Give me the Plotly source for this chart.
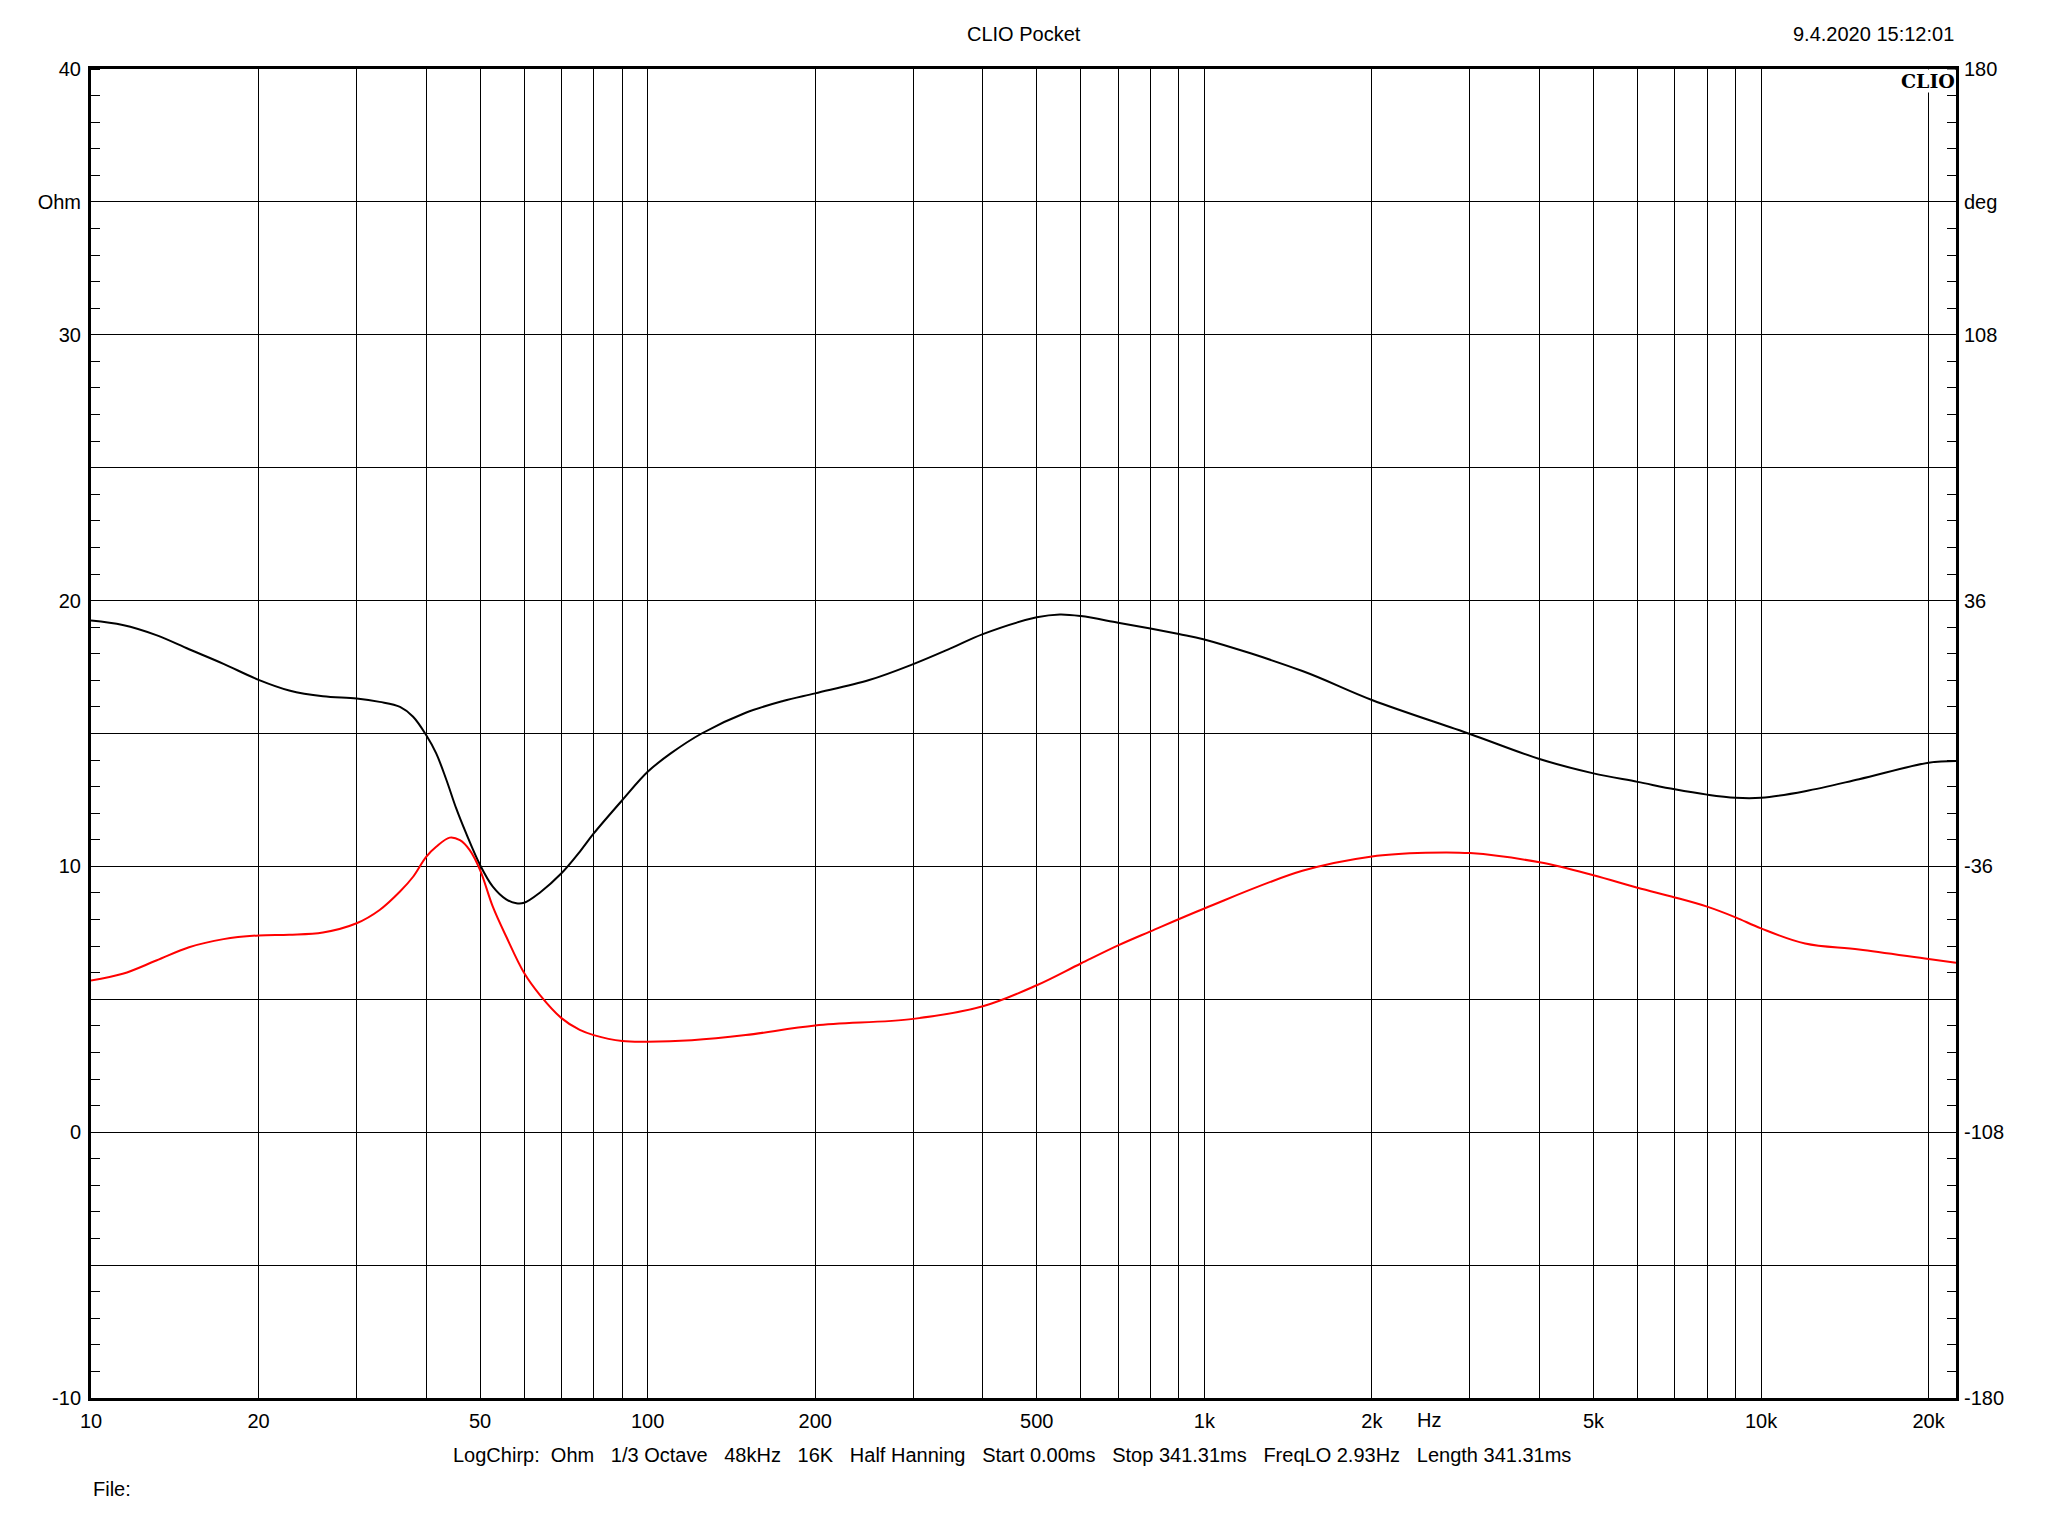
import numpy as np
import plotly.graph_objects as go

# ---- data ----
freq_mag = [10, 11.4, 13.1, 15, 17.3, 20, 22.7, 26.1, 30, 33, 35.9, 37.9, 40, 41.7, 43.5, 45.3,
            47.2, 50, 52.7, 55.7, 58.1, 60, 64, 70, 75.5, 80, 90,
            100, 110, 125, 150, 175, 200, 250, 300, 350, 400, 500, 550, 600, 700, 800, 900,
            1000, 1500, 2000, 3000, 4000, 5000, 6000, 7000, 8000, 9000, 10000, 12000, 15000,
            20000, 22400]
impedance_ohm = [19.25, 19.08, 18.7, 18.17, 17.62, 17.02, 16.62, 16.4, 16.32, 16.19, 16.0, 15.63,
                 14.94, 14.25, 13.25, 12.18, 11.24, 10.05, 9.24, 8.76, 8.61, 8.63, 9.01, 9.74,
                 10.55, 11.24, 12.49,
                 13.56, 14.25, 15.0, 15.78, 16.22, 16.51, 17.01, 17.61, 18.2, 18.74, 19.37, 19.48,
                 19.42, 19.17, 18.95, 18.74, 18.54, 17.35, 16.26, 14.98, 14.04, 13.5, 13.18, 12.9,
                 12.7, 12.58, 12.58, 12.83, 13.28, 13.9, 13.97]

freq_phase = [10, 11.4, 13.1, 15, 17.3, 20, 22.7, 26.1, 30, 33, 35.9, 37.9, 40, 41.7, 44.1, 46,
              47.9, 50, 52.7, 55.7, 60, 64, 70, 75.5, 80, 90,
              100, 120, 150, 200, 300, 400, 500, 600, 700, 800, 1000, 1500,
              2000, 2500, 3000, 4000, 5000, 6000, 7000, 8000, 9000, 10000, 12000, 15000, 20000, 22400]
phase_deg = [-66.9, -65.1, -61.5, -57.9, -55.7, -54.7, -54.5, -53.9, -51.4, -47.8, -42.8, -38.8,
             -33.4, -30.7, -28.2, -28.9, -31.6, -37.0, -46.9, -55.0, -64.9, -70.8, -77.1, -80.3,
             -81.7, -83.3,
             -83.5, -83.1, -81.7, -79.1, -77.3, -73.9, -68.2, -62.3, -57.4, -53.6, -47.4, -37.2,
             -33.3, -32.3, -32.4, -34.9, -38.4, -41.8, -44.4, -46.9, -49.8, -52.8, -56.9, -58.5,
             -61.1, -62.1]

x_grid = [m * 10 ** d for d in range(1, 5) for m in range(1, 10)] + [20000]
x_labels = {10: "10", 20: "20", 50: "50", 100: "100", 200: "200", 500: "500",
            1000: "1k", 2000: "2k", 5000: "5k", 10000: "10k", 20000: "20k"}
x_ticktext = [x_labels.get(v, "") for v in x_grid]

y_left_vals = [-10, -5, 0, 5, 10, 15, 20, 25, 30, 35, 40]
y_left_text = ["-10", "", "0", "", "10", "", "20", "", "30", "Ohm", "40"]
y_right_vals = [-180, -108, -36, 36, 108, 144, 180]
y_right_text = ["-180", "-108", "-36", "36", "108", "deg", "180"]

FONT = "Arial, Liberation Sans, sans-serif"
FS = 20

fig = go.Figure()
fig.add_trace(go.Scatter(x=freq_mag, y=impedance_ohm, mode="lines",
                         line=dict(color="black", width=2, shape="spline", smoothing=1.0),
                         yaxis="y", showlegend=False))
fig.add_trace(go.Scatter(x=freq_phase, y=phase_deg, mode="lines",
                         line=dict(color="#ff0000", width=2, shape="spline", smoothing=1.0),
                         yaxis="y2", showlegend=False))

fig.update_layout(
    width=2032, height=1520,
    margin=dict(l=83, r=84, t=61, b=130),
    paper_bgcolor="white", plot_bgcolor="white",
    font=dict(family=FONT, size=FS, color="black"),
    xaxis=dict(type="log", range=[1, np.log10(22400)],
               tickmode="array", tickvals=x_grid, ticktext=x_ticktext,
               showgrid=True, gridcolor="black", gridwidth=1,
               showline=True, linecolor="black", linewidth=3, mirror=True,
               ticks="", zeroline=False, tickfont=dict(size=FS), ticklabelstandoff=3),
    yaxis=dict(range=[-10, 40], tickmode="array", tickvals=y_left_vals, ticktext=y_left_text,
               showgrid=True, gridcolor="black", gridwidth=1,
               showline=True, linecolor="black", linewidth=3, mirror=True,
               ticks="", zeroline=False, tickfont=dict(size=FS), ticklabelstandoff=3,
               minor=dict(tickmode="linear", tick0=0, dtick=1, ticks="inside",
                          ticklen=9, tickcolor="black", tickwidth=1, showgrid=False)),
    yaxis2=dict(range=[-180, 180], overlaying="y", side="right",
                tickmode="array", tickvals=y_right_vals, ticktext=y_right_text,
                showgrid=False, zeroline=False, showline=False,
                ticks="", tickfont=dict(size=FS), ticklabelstandoff=7,
                minor=dict(tickmode="linear", tick0=-180, dtick=7.2, ticks="inside",
                           ticklen=9, tickcolor="black", tickwidth=1, showgrid=False)),
)

plot_top, plot_bottom = 69, 1398
H = plot_bottom - plot_top


def py(pix):
    return (plot_bottom - pix) / H


annotations = [
    dict(text="CLIO Pocket", x=0.5, y=py(34), yanchor="middle"),
    dict(text="9.4.2020 15:12:01", x=1.0, y=py(34), xanchor="right", yanchor="middle"),
    dict(text="<b>CLIO</b>", x=1.0, y=1.0, xanchor="right", yanchor="top", bgcolor="white",
         borderpad=0, font=dict(family="DejaVu Serif, serif", size=19, color="black")),
    dict(text="Hz", x=0.7248, y=py(1420), yanchor="middle"),
    dict(text="LogChirp:&nbsp;&nbsp;Ohm&nbsp;&nbsp;&nbsp;1/3 Octave&nbsp;&nbsp;&nbsp;48kHz&nbsp;&nbsp;&nbsp;16K"
              "&nbsp;&nbsp;&nbsp;Half Hanning&nbsp;&nbsp;&nbsp;Start 0.00ms&nbsp;&nbsp;&nbsp;Stop 341.31ms"
              "&nbsp;&nbsp;&nbsp;FreqLO 2.93Hz&nbsp;&nbsp;&nbsp;Length 341.31ms",
         x=0.4937, y=py(1455), yanchor="middle"),
    dict(text="File:", x=0.0, y=py(1489), xanchor="left", yanchor="middle"),
]
for a in annotations:
    a.update(xref="paper", yref="paper", showarrow=False)
fig.update_layout(annotations=annotations)

fig.write_html("out.html")
